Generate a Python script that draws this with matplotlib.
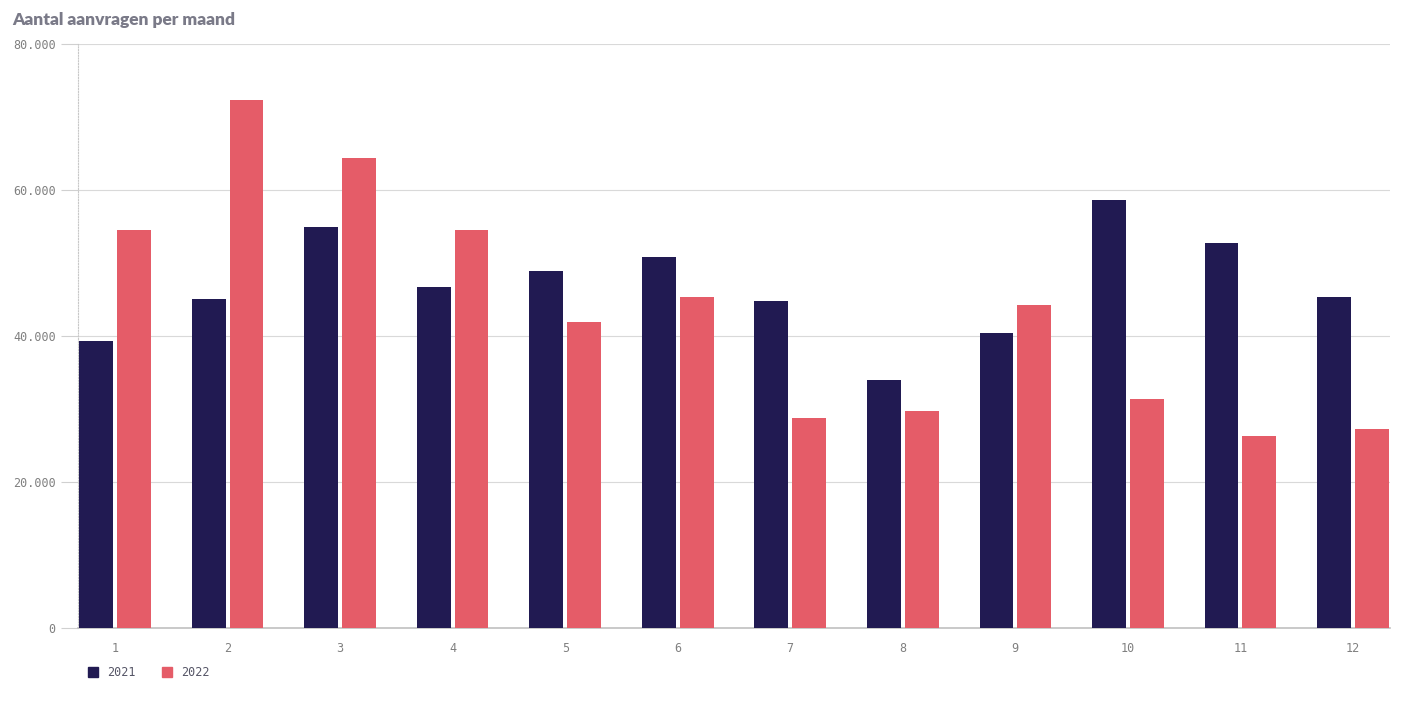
import matplotlib.pyplot as plt
import numpy as np
from matplotlib.patches import Rectangle

months = ["1", "2", "3", "4", "5", "6", "7", "8", "9", "10", "11", "12"]
aanvragen_2021 = [39300, 45100, 54900, 46700, 48900, 50800, 44800, 34000, 40400, 58600, 52700, 45300]
aanvragen_2022 = [54500, 72300, 64400, 54500, 41900, 45300, 28800, 29700, 44200, 31400, 26300, 27300]
yticks = [0, 20000, 40000, 60000, 80000]
ytick_labels = ["0", "20.000", "40.000", "60.000", "80.000"]

dark = "#211a52"
red = "#e55c68"
grey = "#808080"

fig = plt.figure(figsize=(14.24, 7.02), dpi=100)
ax = fig.add_axes([0.0548, 0.1054, 0.9213, 0.8319])

x = np.arange(len(months))
w = 0.30
ax.bar(x - w / 2 - 0.018, aanvragen_2021, width=w, color=dark, label="2021", zorder=3)
ax.bar(x + w / 2 + 0.018, aanvragen_2022, width=w, color=red, label="2022", zorder=3)

ax.set_xlim(-0.33, 11.33)
ax.set_ylim(0, 80000)
ax.set_xticks(x)
ax.set_xticklabels(months)
ax.set_yticks(yticks)
ax.set_yticklabels(ytick_labels)
ax.tick_params(axis="both", labelsize=8.5, colors=grey, labelcolor=grey)
ax.tick_params(axis="x", length=0, pad=10)
ax.tick_params(axis="y", length=12, color="#d0d0d0", pad=4)
for lab in ax.get_xticklabels() + ax.get_yticklabels():
    lab.set_family("DejaVu Sans Mono")

ax.grid(axis="y", color="#d9d9d9", linewidth=0.8, zorder=0)
for s in ["top", "right"]:
    ax.spines[s].set_visible(False)
ax.spines["left"].set_color("#c8c8c8")
ax.spines["left"].set_linestyle((0, (1, 1.5)))
ax.spines["left"].set_linewidth(0.8)
ax.spines["bottom"].set_color("#c0c0c0")
ax.spines["bottom"].set_linewidth(1.2)

fig.text(12 / 1424, 1 - 20 / 702, "Aantal aanvragen per maand", fontsize=12.5,
         fontweight="heavy", family="Lato", color="#7a7a88", va="center", ha="left")

# legend
for xs, col, lab in [(88, dark, "2021"), (162, red, "2022")]:
    fig.patches.append(Rectangle((xs / 1424, 1 - 677 / 702), 10 / 1424, 10 / 702,
                                 transform=fig.transFigure, color=col))
    fig.text((xs + 19) / 1424, 1 - 672 / 702, lab, fontsize=8.5, family="DejaVu Sans Mono",
             color="#555566", va="center", ha="left")

fig.savefig("out.png", dpi=100)
